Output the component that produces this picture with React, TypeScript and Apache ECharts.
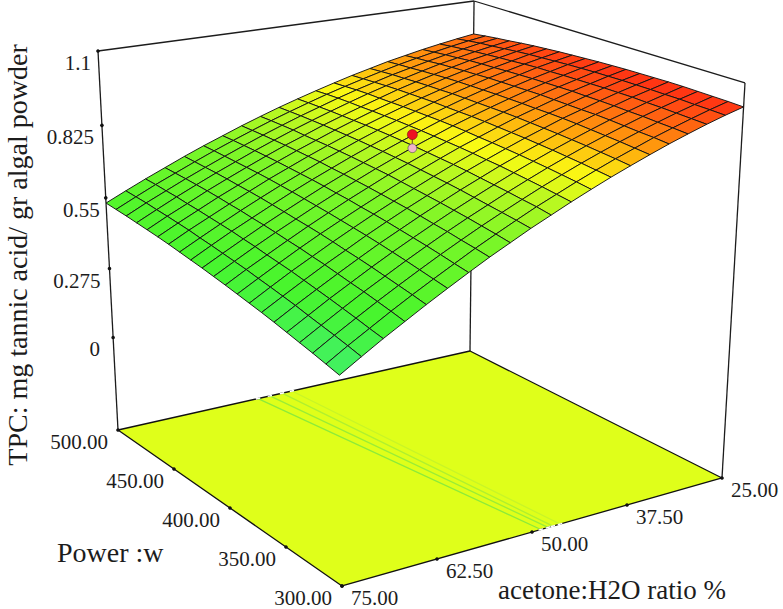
import React, { useEffect, useRef } from "react";
import * as echarts from "echarts";

// Power levels (w), one per grid column, and acetone:H2O levels (%), one per grid row
const powerLevels = [500,490,480,470,460,450,440,430,420,410,400,390,380,370,360,350,340,330,320,310,300];
const ratioLevels = [75,72.5,70,67.5,65,62.5,60,57.5,55,52.5,50,47.5,45,42.5,40,37.5,35,32.5,30,27.5,25];

// TPC: one row per ratio level, across power levels
const tpc75 = [.530,.526,.522,.517,.512,.507,.501,.494,.487,.480,.472,.464,.455,.446,.437,.427,.416,.405,.394,.382,.370];
const tpc725 = [.564,.561,.558,.553,.549,.544,.539,.532,.526,.519,.512,.505,.496,.488,.479,.470,.459,.449,.439,.428,.416];
const tpc70 = [.597,.595,.591,.588,.583,.579,.574,.569,.564,.557,.551,.543,.536,.529,.520,.511,.502,.492,.482,.471,.461];
const tpc675 = [.628,.626,.624,.621,.618,.614,.609,.605,.599,.594,.588,.581,.575,.567,.560,.551,.542,.534,.524,.514,.503];
const tpc65 = [.659,.657,.655,.653,.650,.646,.643,.639,.634,.629,.623,.618,.612,.605,.597,.590,.582,.573,.564,.555,.545];
const tpc625 = [.688,.687,.685,.683,.681,.679,.676,.672,.668,.663,.658,.653,.647,.641,.635,.628,.620,.612,.603,.594,.585];
const tpc60 = [.715,.715,.714,.713,.711,.709,.706,.703,.700,.696,.691,.687,.681,.676,.670,.663,.656,.649,.641,.632,.624];
const tpc575 = [.742,.742,.742,.741,.740,.738,.736,.734,.730,.727,.723,.719,.714,.709,.704,.698,.691,.685,.677,.670,.662];
const tpc55 = [.767,.768,.768,.768,.766,.765,.764,.762,.760,.757,.754,.751,.746,.741,.736,.731,.725,.719,.712,.705,.697];
const tpc525 = [.791,.792,.793,.793,.793,.792,.791,.790,.788,.786,.783,.780,.776,.772,.768,.763,.757,.751,.745,.739,.732];
const tpc50 = [.813,.815,.816,.817,.817,.817,.817,.816,.815,.813,.811,.808,.805,.802,.798,.793,.788,.783,.777,.772,.764];
const tpc475 = [.834,.837,.839,.840,.840,.841,.841,.841,.840,.839,.837,.835,.833,.830,.826,.823,.818,.813,.808,.802,.796];
const tpc45 = [.854,.857,.860,.862,.862,.863,.864,.864,.864,.864,.863,.861,.858,.856,.853,.850,.846,.842,.837,.832,.826];
const tpc425 = [.873,.876,.879,.882,.884,.885,.886,.887,.886,.886,.886,.885,.883,.881,.879,.876,.873,.869,.865,.860,.855];
const tpc40 = [.890,.894,.898,.900,.903,.905,.906,.908,.908,.908,.908,.908,.907,.905,.903,.901,.898,.895,.891,.887,.882];
const tpc375 = [.907,.911,.914,.918,.921,.924,.926,.927,.928,.929,.929,.929,.928,.928,.927,.925,.922,.919,.916,.912,.908];
const tpc35 = [.921,.926,.930,.935,.938,.941,.943,.946,.947,.948,.949,.950,.949,.948,.947,.947,.945,.942,.939,.937,.933];
const tpc325 = [.935,.940,.945,.949,.954,.957,.959,.962,.964,.966,.967,.968,.969,.968,.968,.967,.965,.964,.961,.959,.956];
const tpc30 = [.947,.953,.958,.963,.967,.971,.974,.978,.981,.982,.984,.985,.986,.987,.987,.987,.985,.984,.982,.980,.978];
const tpc275 = [.958,.965,.971,.975,.980,.985,.989,.992,.995,.998,1.000,1.002,1.003,1.004,1.004,1.004,1.003,1.003,1.001,1.000,.998];
const tpc25 = [.968,.975,.981,.986,.992,.997,1.001,1.005,1.008,1.011,1.014,1.016,1.018,1.019,1.020,1.021,1.021,1.020,1.019,1.018,1.016];
const tpcRows = [tpc75,tpc725,tpc70,tpc675,tpc65,tpc625,tpc60,tpc575,tpc55,tpc525,tpc50,tpc475,tpc45,tpc425,tpc40,tpc375,tpc35,tpc325,tpc30,tpc275,tpc25];

// Tick labels
const powerTicks = ["500.00","450.00","400.00","350.00","300.00"];
const ratioTicks = ["75.00","62.50","50.00","37.50","25.00"];
const tpcTicks = ["1.1","0.825","0.55","0.275","0"];
const tpcLabelDx = [-7,-8,-6,-9,-13];

// Floor contours: [ratio at power 500, ratio at power 300]
const contourStart = [56.3,54.65,52.95,51.55];
const contourEnd = [50.3,49.35,48.7,47.75];
const contourColors = ["#8ceb3a","#9aed36","#b0f02f","#c8f528"];

// Design point: [power, ratio, tpc]
const actualPoint = [400,50.3,0.856];
const predictedPoint = [400,50.3,0.806];

const Z_FLOOR = -0.38, Z_TOP = 1.1, P_MAX = 500, P_SPAN = 200, R_MAX = 75, R_SPAN = 50;
const SERIF = "'Liberation Serif', 'Times New Roman', serif";
const INK = "#1c1c1c";

function project(power: number, ratio: number, z: number): number[] {
  const u = (P_MAX - power) / P_SPAN, v = (R_MAX - ratio) / R_SPAN, t = (z - Z_FLOOR) / (Z_TOP - Z_FLOOR);
  const w = 1 - 0.14394 * u + 0.10594 * v - 0.0651 * t;
  const xn = 174.77 * u + 401.79 * v + 118 - 26.38 * t;
  const yn = 71.65 * u - 41.82 * v + 430 + t * (-382.32 + 1.75 * u - 4.82 * v);
  return [xn / w, yn / w];
}
// The drawn axes space their ticks evenly between the two ends of each floor edge
function powerTickPos(power: number): number[] {
  const a = project(P_MAX, R_MAX, Z_FLOOR), b = project(P_MAX - P_SPAN, R_MAX, Z_FLOOR);
  const f = (P_MAX - power) / P_SPAN;
  return [a[0] + (b[0] - a[0]) * f, a[1] + (b[1] - a[1]) * f];
}
function ratioTickPos(ratio: number): number[] {
  const a = project(P_MAX - P_SPAN, R_MAX, Z_FLOOR), b = project(P_MAX - P_SPAN, R_MAX - R_SPAN, Z_FLOOR);
  const f = (R_MAX - ratio) / R_SPAN;
  return [a[0] + (b[0] - a[0]) * f, a[1] + (b[1] - a[1]) * f];
}

const stops: [number, number[]][] = [
  [0.36, [64, 240, 112]],
  [0.5, [72, 245, 45]],
  [0.7, [125, 246, 40]],
  [0.78, [180, 248, 34]],
  [0.845, [250, 250, 20]],
  [0.91, [255, 165, 12]],
  [1.02, [255, 45, 20]],
];
function colorOf(z: number): string {
  if (z <= stops[0][0]) return `rgb(${stops[0][1].join(",")})`;
  for (let s = 1; s < stops.length; s++) {
    if (z <= stops[s][0]) {
      const f = (z - stops[s - 1][0]) / (stops[s][0] - stops[s - 1][0]);
      const c = stops[s][1].map((b, k) => Math.round(stops[s - 1][1][k] + (b - stops[s - 1][1][k]) * f));
      return `rgb(${c.join(",")})`;
    }
  }
  return `rgb(${stops[stops.length - 1][1].join(",")})`;
}

function custom(data: any[], render: (item: any, api: any, idx: number) => any, z: number) {
  return {
    type: "custom",
    coordinateSystem: "cartesian2d",
    silent: true,
    clip: false,
    z,
    data: data.map((d, i) => [i, 0]),
    encode: { x: 0, y: 1 },
    renderItem: (p: any, api: any) => render(data[p.dataIndex], api, p.dataIndex),
  };
}

export default function App() {
  const ref = useRef<HTMLDivElement>(null);
  useEffect(() => {
    document.body.style.margin = "0";
    const chart = echarts.init(ref.current!, undefined, { renderer: "svg" });
    const pt = (api: any, p: number, r: number, z: number) => api.coord(project(p, r, z));
    const pMin = powerLevels[powerLevels.length - 1], pMax = powerLevels[0];
    const rMin = ratioLevels[ratioLevels.length - 1], rMax = ratioLevels[0];
    const zTicks = tpcTicks.map(Number);
    const pTicks = powerTicks.map(Number);
    const rTicks = ratioTicks.map(Number);

    const cells: number[][] = [];
    for (let i = 0; i < powerLevels.length - 1; i++)
      for (let j = ratioLevels.length - 2; j >= 0; j--) cells.push([i, j]);

    const boxLines = [
      [[pMax, rMax, Z_FLOOR], [pMax, rMax, Z_TOP]],
      [[pMax, rMax, Z_TOP], [pMax, rMin, Z_TOP]],
      [[pMax, rMin, Z_TOP], [pMin, rMin, Z_TOP]],
      [[pMax, rMin, Z_TOP], [pMax, rMin, Z_FLOOR]],
      [[pMin, rMin, Z_TOP], [pMin, rMin, Z_FLOOR]],
    ];
    const floorPts = [[pMax, rMax], [pMin, rMax], [pMin, rMin], [pMax, rMin]];
    const edgeGaps: number[][] = [
      ...contourStart.map((r) => [pMax, r]),
      ...contourEnd.map((r) => [pMin, r]),
    ];

    const label = (api: any, pos: number[], text: string, align: string, dx: number, dy: number, size: number) => {
      const c = api.coord(pos);
      return {
        type: "text",
        x: c[0] + dx,
        y: c[1] + dy,
        style: { text, fill: INK, font: `${size}px ${SERIF}`, textAlign: align, textVerticalAlign: "middle" },
      };
    };
    const dot = (api: any, pos: number[]) => {
      const a = api.coord(pos);
      return { type: "circle", shape: { cx: a[0], cy: a[1], r: 1.8 }, style: { fill: "#111" } };
    };

    chart.setOption({
      animation: false,
      backgroundColor: "#ffffff",
      grid: { left: 0, right: 0, top: 0, bottom: 0 },
      xAxis: { type: "value", min: 0, max: 783, show: false },
      yAxis: { type: "value", min: 0, max: 609, inverse: true, show: false },
      series: [
        custom(boxLines, (l, api) => {
          const a = pt(api, l[0][0], l[0][1], l[0][2]);
          const b = pt(api, l[1][0], l[1][1], l[1][2]);
          return {
            type: "line",
            shape: { x1: a[0], y1: a[1], x2: b[0], y2: b[1] },
            style: { stroke: INK, lineWidth: 1.3 },
          };
        }, 1),
        custom([floorPts], (f, api) => ({
          type: "polygon",
          shape: { points: f.map((c: number[]) => pt(api, c[0], c[1], Z_FLOOR)) },
          style: { fill: "#dfff1a", stroke: "#111", lineWidth: 1.3, lineJoin: "round" },
        }), 2),
        custom(contourStart.map((r, i) => [r, contourEnd[i], contourColors[i]]), (c, api) => {
          const a = pt(api, pMax, c[0], Z_FLOOR), b = pt(api, pMin, c[1], Z_FLOOR);
          return {
            type: "line",
            shape: { x1: a[0], y1: a[1], x2: b[0], y2: b[1] },
            style: { stroke: c[2], lineWidth: 1.3 },
          };
        }, 3),
        custom(edgeGaps, (g, api) => {
          const a = pt(api, g[0], g[1] - 0.3, Z_FLOOR), b = pt(api, g[0], g[1] + 0.3, Z_FLOOR);
          return {
            type: "line",
            shape: { x1: a[0], y1: a[1], x2: b[0], y2: b[1] },
            style: { stroke: "#ffffff", lineWidth: 1.5 },
          };
        }, 4),
        custom(pTicks, (p, api) => dot(api, powerTickPos(p)), 5),
        custom(rTicks, (r, api) => dot(api, ratioTickPos(r)), 5),
        custom(zTicks, (z, api) => dot(api, project(pMax, rMax, z)), 5),
        custom(cells, (c, api) => {
          const [i, j] = c;
          const p0 = powerLevels[i], p1 = powerLevels[i + 1], r0 = ratioLevels[j], r1 = ratioLevels[j + 1];
          const z00 = tpcRows[j][i], z10 = tpcRows[j][i + 1], z11 = tpcRows[j + 1][i + 1], z01 = tpcRows[j + 1][i];
          return {
            type: "polygon",
            shape: { points: [pt(api, p0, r0, z00), pt(api, p1, r0, z10), pt(api, p1, r1, z11), pt(api, p0, r1, z01)] },
            style: { fill: colorOf((z00 + z10 + z11 + z01) / 4), stroke: "#141414", lineWidth: 0.95, lineJoin: "round" },
          };
        }, 6),
        custom([[actualPoint, predictedPoint]], (m, api) => {
          const a = pt(api, m[0][0], m[0][1], m[0][2]), b = pt(api, m[1][0], m[1][1], m[1][2]);
          return {
            type: "group",
            children: [
              { type: "line", shape: { x1: a[0], y1: a[1], x2: b[0], y2: b[1] }, style: { stroke: "#7a6a20", lineWidth: 1.2 } },
              { type: "circle", shape: { cx: b[0], cy: b[1], r: 4.4 }, style: { fill: "#f0b4c8", stroke: "#555", lineWidth: 0.7 } },
              { type: "circle", shape: { cx: a[0], cy: a[1], r: 5 }, style: { fill: "#ee1122", stroke: "#7a1010", lineWidth: 0.6 } },
            ],
          };
        }, 7),
        custom(powerTicks, (s, api) => label(api, powerTickPos(Number(s)), s, "right", -10, 12, 21), 8),
        custom(ratioTicks, (s, api) => label(api, ratioTickPos(Number(s)), s, "left", 9, 12, 21), 8),
        custom(tpcTicks, (s, api, i) => label(api, project(pMax, rMax, Number(s)), s, "right", tpcLabelDx[i], 12, 21), 8),
      ],
      graphic: [
        { type: "text", x: 17, y: 255, rotation: Math.PI / 2, silent: true, z: 9,
          style: { text: "TPC: mg tannic acid/ gr algal powder", fill: INK, font: `28px ${SERIF}`, textAlign: "center", textVerticalAlign: "middle" } },
        { type: "text", x: 57, y: 552, silent: true, z: 9,
          style: { text: "Power :w", fill: INK, font: `28px ${SERIF}`, textAlign: "left", textVerticalAlign: "middle" } },
        { type: "text", x: 498, y: 590, silent: true, z: 9,
          style: { text: "acetone:H2O ratio %", fill: INK, font: `27px ${SERIF}`, textAlign: "left", textVerticalAlign: "middle" } },
      ],
    });
    return () => chart.dispose();
  }, []);
  return <div ref={ref} style={{ width: 783, height: 609 }} />;
}
